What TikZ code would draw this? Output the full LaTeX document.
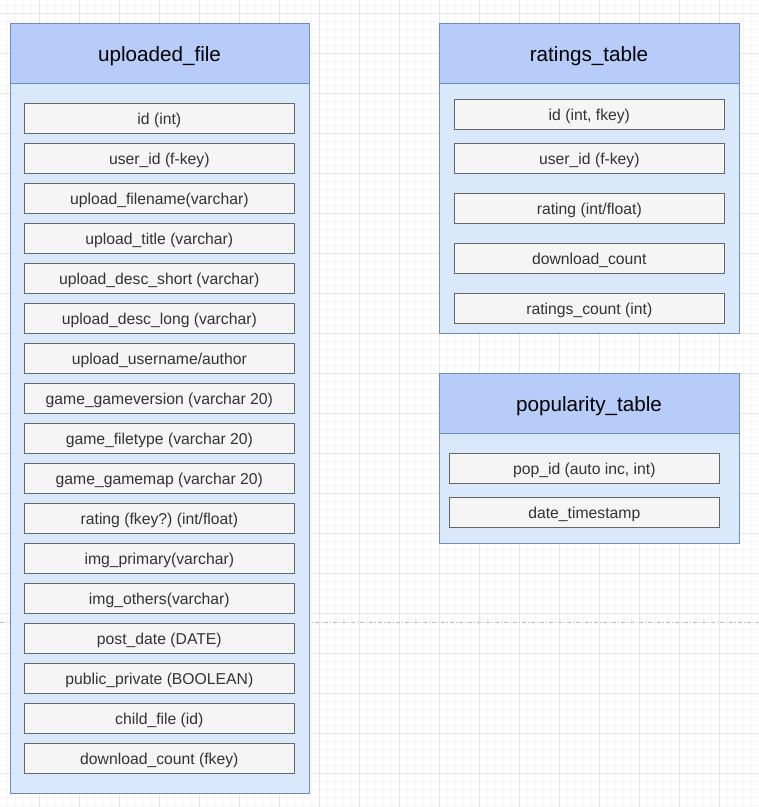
\documentclass[tikz,border=0pt]{standalone}
\usepackage{fontspec}
\setmainfont{Liberation Sans}
\usepackage{xcolor}
\usepackage{tikz}
\usetikzlibrary{positioning}
\definecolor{tblblue}{RGB}{218,232,252}
\definecolor{headblue}{RGB}{184,204,249}
\definecolor{tbledge}{RGB}{108,142,191}
\definecolor{fieldgray}{RGB}{245,245,245}
\definecolor{fieldedge}{RGB}{102,102,102}
\definecolor{majorgrid}{RGB}{229,229,229}
\definecolor{minorgrid}{RGB}{246,246,246}
\frenchspacing

\begin{document}
\begin{tikzpicture}[
    x=0.75pt, y=-0.75pt,
    tbl/.style={rectangle, draw=tbledge, fill=tblblue, line width=0.75pt, anchor=north west,
                minimum width=225pt, inner sep=0pt, outer sep=0pt},
    tblhead/.style={rectangle, draw=tbledge, fill=headblue, line width=0.75pt, anchor=north west,
                minimum width=225pt, minimum height=45pt, inner sep=0pt, outer sep=0pt,
                font=\fontsize{15.5}{18}\selectfont, text=black, text height=13pt, text depth=0pt},
    field/.style={rectangle, draw=fieldedge, fill=fieldgray, line width=0.75pt,
                minimum width=203pt, minimum height=22.5pt, inner sep=0pt, outer sep=0pt,
                text centered, font=\fontsize{11.8}{14}\selectfont, text=black!80,
                text height=9.5pt, text depth=0pt},
    sep/.style={draw=black!25, line width=0.75pt, dash pattern=on 3pt off 1.5pt on 0.75pt off 1.5pt}
]
\useasboundingbox (0,0) rectangle (759,807);

% background grid
\foreach \gx in {7,15,...,759} \draw[minorgrid, line width=0.5pt] (\gx,0) -- (\gx,807);
\foreach \gy in {5,13,...,807} \draw[minorgrid, line width=0.5pt] (0,\gy) -- (759,\gy);
\foreach \gx in {39,79,...,759} \draw[majorgrid, line width=0.75pt] (\gx,0) -- (\gx,807);
\foreach \gy in {13,53,...,807} \draw[majorgrid, line width=0.75pt] (0,\gy) -- (759,\gy);

\coordinate (sepL) at (0,622);
\coordinate (sepR) at (759,622);
\draw[sep] (sepL) -- (sepR);

% uploaded_file
\node[tbl, minimum width=224.25pt, minimum height=577.5pt] (upl) at (10,23) {};
\node[tblhead, minimum width=224.25pt] (uplhead) at (10,23) {uploaded\_file};

\node[field, anchor=north west] (u1) at (24,103) {id (int)};
\node[field, below=7.5pt of u1] (u2) {user\_id (f-key)};
\node[field, below=7.5pt of u2] (u3) {upload\_filename(varchar)};
\node[field, below=7.5pt of u3] (u4) {upload\_title (varchar)};
\node[field, below=7.5pt of u4] (u5) {upload\_desc\_short (varchar)};
\node[field, below=7.5pt of u5] (u6) {upload\_desc\_long (varchar)};
\node[field, below=7.5pt of u6] (u7) {upload\_username/author};
\node[field, below=7.5pt of u7] (u8) {game\_gameversion (varchar 20)};
\node[field, below=7.5pt of u8] (u9) {game\_filetype (varchar 20)};
\node[field, below=7.5pt of u9] (u10) {game\_gamemap (varchar 20)};
\node[field, below=7.5pt of u10] (u11) {rating (fkey?) (int/float)};
\node[field, below=7.5pt of u11] (u12) {img\_primary(varchar)};
\node[field, below=7.5pt of u12] (u13) {img\_others(varchar)};
\node[field, below=7.5pt of u13] (u14) {post\_date (DATE)};
\node[field, below=7.5pt of u14] (u15) {public\_private (BOOLEAN)};
\node[field, below=7.5pt of u15] (u16) {child\_file (id)};
\node[field, below=7.5pt of u16] (u17) {download\_count (fkey)};

% ratings_table
\node[tbl, minimum height=232.5pt] (rat) at (439,23) {};
\node[tblhead] (rathead) at (439,23) {ratings\_table};

\node[field, anchor=north west] (r1) at (454,99) {id (int, fkey)};
\node[field, below=10.5pt of r1] (r2) {user\_id (f-key)};
\node[field, below=15pt of r2] (r3) {rating (int/float)};
\node[field, below=15pt of r3] (r4) {download\_count};
\node[field, below=15pt of r4] (r5) {ratings\_count (int)};

% popularity_table
\node[tbl, minimum height=127.5pt] (pop) at (439,373) {};
\node[tblhead] (pophead) at (439,373) {popularity\_table};

\node[field, anchor=north west] (p1) at (449,453) {pop\_id (auto inc, int)};
\node[field, below=10.5pt of p1] (p2) {date\_timestamp};

\end{tikzpicture}
\end{document}
